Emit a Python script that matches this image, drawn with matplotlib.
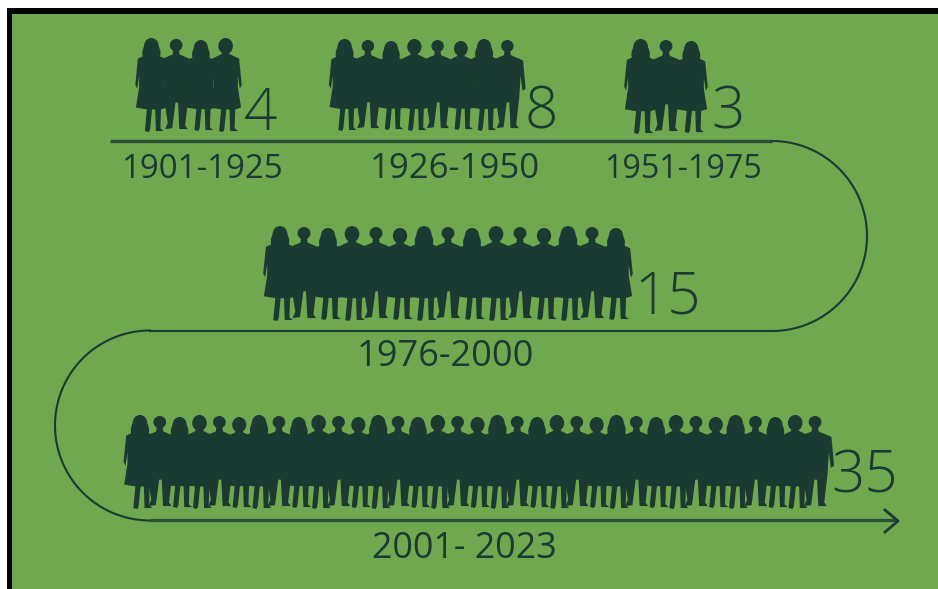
import numpy as np
import matplotlib
matplotlib.use('Agg')
import matplotlib.pyplot as plt
from matplotlib.patches import Polygon, Ellipse

# Data
periods = ['1901-1925', '1926-1950', '1951-1975', '1976-2000', '2001- 2023']
counts = [4, 8, 3, 15, 35]

# Layout (pixel coordinates of the 938x589 canvas)
W, H = 938, 589
GREEN, DARK, LINE = '#70A850', '#1B3A32', '#2A5038'
row_x0 = [139, 333, 628, 268, 130]
row_x1 = [238, 519, 704, 628, 825]
row_top = [38, 39, 39, 226, 415]
row_base = [132, 131, 134, 321, 509]
row_overlap = [1.3, 1.35, 1.3, 1.4, 1.65]
num_xy = [(260, 107), (541, 106), (728, 106), (668, 291), (865, 470)]
lab_xy = [(202, 165), (455, 165), (683, 165), (445, 353), (464, 545)]
lab_size = [23.9, 25, 23.2, 26, 25.8]

fig = plt.figure(figsize=(W / 100, H / 100), dpi=100, facecolor='white')
ax = fig.add_axes([0, 0, 1, 1])
ax.set_xlim(0, W)
ax.set_ylim(H, 0)
ax.axis('off')
ax.add_patch(plt.Rectangle((7, 8), W, H, fc='black', ec='none', zorder=0))
ax.add_patch(plt.Rectangle((12, 14), W, H, fc=GREEN, ec='none', zorder=0))

WOMAN = np.array([
    (-0.10, 0.13), (0.10, 0.13), (0.12, 0.17), (0.42, 0.22), (0.50, 0.50), (0.44, 0.54), (0.38, 0.40),
    (0.38, 0.52), (0.48, 0.74), (0.30, 0.76), (0.28, 0.96), (0.38, 0.99), (0.14, 0.99), (0.12, 0.76),
    (0.02, 0.76), (-0.04, 0.97), (-0.08, 1.0), (-0.20, 0.99), (-0.14, 0.76), (-0.48, 0.74), (-0.38, 0.52),
    (-0.38, 0.40), (-0.44, 0.54), (-0.50, 0.50), (-0.42, 0.22), (-0.12, 0.17)])
MAN = np.array([
    (-0.09, 0.12), (0.09, 0.12), (0.11, 0.17), (0.50, 0.23), (0.58, 0.55), (0.48, 0.57), (0.42, 0.40),
    (0.38, 0.64), (0.28, 0.95), (0.36, 0.99), (0.10, 0.99), (0.06, 0.70), (-0.02, 0.70), (-0.12, 0.98),
    (-0.34, 0.99), (-0.26, 0.92), (-0.38, 0.64), (-0.42, 0.40), (-0.48, 0.57), (-0.58, 0.55), (-0.50, 0.23),
    (-0.11, 0.17)])


def person(xc, w, top, base, variant):
    h = base - top
    woman = variant % 3 != 1
    shape = WOMAN if woman else MAN
    head_w = h * (0.155 if woman else 0.14)
    head_h = h * (0.17 if woman else 0.135)
    ax.add_patch(Ellipse((xc, top + head_h / 2), head_w, head_h, fc=DARK, ec='none', zorder=3))
    if woman and variant % 2 == 0:  # long hair
        ax.add_patch(Ellipse((xc, top + h * 0.16), head_w * 1.25, h * 0.24, fc=DARK, ec='none', zorder=3))
    ax.add_patch(Polygon(np.c_[xc + shape[:, 0] * w, top + shape[:, 1] * h], closed=True,
                         fc=DARK, ec='none', zorder=3))


for n, x0, x1, t, b, k in zip(counts, row_x0, row_x1, row_top, row_base, row_overlap):
    step = (x1 - x0) / n
    for i in range(n):
        person(x0 + step * (i + .5), step * k, t + (i * 7 % 3), b - (i * 5 % 3), i)

# Serpentine timeline
r1, r2 = 95, 95
y1, y2, y3 = 141, 331, 520
ta = np.linspace(-np.pi / 2, np.pi / 2, 120)
ax.plot([110, 772], [y1, y1], color=LINE, lw=2.4, solid_capstyle='butt', zorder=2)
ax.plot(772 + r1 * np.cos(ta), (y1 + y2) / 2 + r1 * np.sin(ta), color=DARK, lw=1.5, zorder=2)
ax.plot([772, 150], [y2, y2], color=DARK, lw=1.5, zorder=2)
ax.plot(150 - r2 * np.cos(ta), (y2 + y3) / 2 + r2 * np.sin(ta), color=DARK, lw=1.5, zorder=2)
ax.plot([150, 897], [y3, y3], color=LINE, lw=2.4, solid_capstyle='butt', zorder=2)
ax.plot([885, 898, 885], [510, 521, 532], color=DARK, lw=2.0, zorder=2)

for s, (x, y) in zip(counts, num_xy):
    ax.text(x, y, str(s), color=DARK, fontsize=42, family='Open Sans', fontweight='light',
            ha='center', va='center_baseline')
for s, (x, y), fs in zip(periods, lab_xy, lab_size):
    ax.text(x, y, s, color=DARK, fontsize=fs, family='Open Sans', ha='center', va='center_baseline')

fig.savefig('out.png', dpi=100, facecolor='white')
